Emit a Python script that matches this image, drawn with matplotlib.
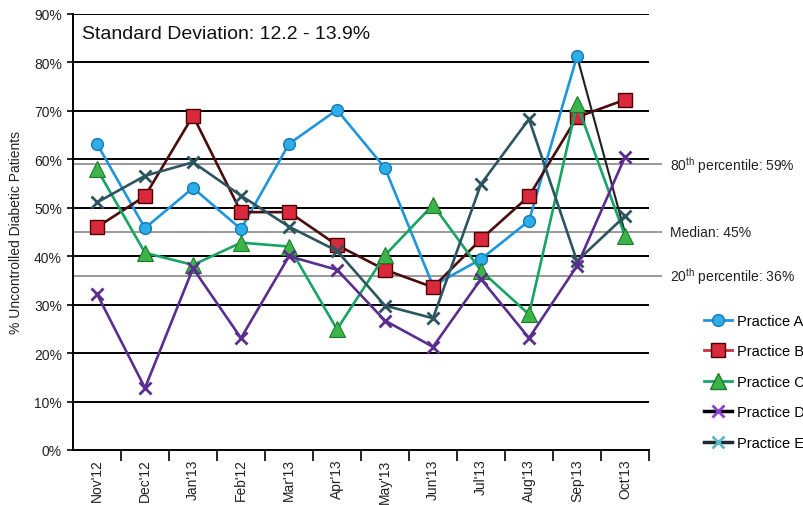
import matplotlib
matplotlib.use("Agg")
import matplotlib.pyplot as plt
from matplotlib.lines import Line2D

plt.rcParams['font.family'] = ['Liberation Sans', 'DejaVu Sans']
plt.rcParams['mathtext.fontset'] = 'custom'
plt.rcParams['mathtext.rm'] = 'Liberation Sans'

months = ["Nov'12", "Dec'12", "Jan'13", "Feb'12", "Mar'13", "Apr'13",
          "May'13", "Jun'13", "Jul'13", "Aug'13", "Sep'13", "Oct'13"]

practice_a = [63.2, 45.8, 54.1, 45.6, 63.2, 70.2, 58.2, 33.9, 39.4, 47.3, 81.3, 44.8]
practice_b = [46.0, 52.4, 69.0, 49.1, 49.1, 42.3, 37.2, 33.6, 43.5, 52.4, 68.7, 72.3]
practice_c = [58.0, 40.7, 38.2, 42.8, 42.0, 24.9, 40.2, 50.6, 37.0, 28.0, 71.4, 44.2]
practice_d = [32.2, 12.8, 37.5, 23.1, 40.0, 37.2, 26.7, 21.3, 35.3, 23.1, 38.0, 60.5]
practice_e = [51.1, 56.6, 59.4, 52.5, 46.1, 41.1, 29.8, 27.2, 54.9, 68.3, 39.0, 48.3]

percentile_values = [59, 45, 36]
percentile_labels = ["80$^{\\rm th}$ percentile: 59%", "Median: 45%",
                     "20$^{\\rm th}$ percentile: 36%"]

y_ticks = [0, 10, 20, 30, 40, 50, 60, 70, 80, 90]
title_text = "Standard Deviation: 12.2 - 13.9%"

fig = plt.figure(figsize=(8.04, 5.06), dpi=100)
ax = fig.add_axes([73 / 804, 1 - 451 / 506, 576 / 804, 436 / 506])

x = list(range(len(months)))

# horizontal grid
for v in y_ticks[1:]:
    ax.axhline(v, color='black', lw=1.4, zorder=1)

# percentile reference lines, extending slightly past the plot
for v, lab in zip(percentile_values, percentile_labels):
    ax.plot([0, 1.02], [v, v], transform=ax.get_yaxis_transform(),
            color='#9a9a9a', lw=1.4, clip_on=False, zorder=1.5)
    ax.text(1.037, v, lab, transform=ax.get_yaxis_transform(),
            va='center', ha='left', fontsize=10, color='#222222')

blue_line, blue_face, blue_edge = '#1f95dc', '#2eaee8', '#1577b5'
red_line, red_face, red_edge = '#4a0c0c', '#d82a3c', '#4a0000'
green_line, green_face, green_edge = '#17a564', '#3cb44a', '#1d7a2a'
purple = '#5b2d8e'
teal = '#2d5560'

lw = 1.9
# Practice A: last segment drawn dark, its final marker sits under Practice C
ax.plot(x[:-1], practice_a[:-1], color=blue_line, lw=lw, zorder=3)
ax.plot(x[-2:], practice_a[-2:], color='#222222', lw=lw * 0.8, zorder=2.9)
ax.plot(x, practice_a, ls='none', marker='o', ms=8.5, mfc=blue_face,
        mec=blue_edge, mew=1.0, markevery=list(range(len(x) - 1)), zorder=3.1)

ax.plot(x, practice_b, color=red_line, lw=lw, marker='s', ms=10,
        mfc=red_face, mec=red_edge, mew=1.0, zorder=4)

ax.plot(x, practice_c, color=green_line, lw=lw, marker='^', ms=11,
        mfc=green_face, mec=green_edge, mew=0.8, zorder=5)

ax.plot(x, practice_d, color=purple, lw=lw, marker='x', ms=9,
        mec=purple, mew=2.0, zorder=6)

ax.plot(x, practice_e, color=teal, lw=lw, marker='x', ms=9,
        mec=teal, mew=2.0, zorder=5.5)

ax.set_xlim(-0.5, len(months) - 0.5)
ax.set_ylim(0, 90)

ax.set_yticks(y_ticks)
ax.set_yticklabels([f"{v}%" for v in y_ticks], fontsize=10, color='#222222')
ax.tick_params(axis='y', length=4, width=1.2, pad=4)

ax.set_xticks(x)
ax.set_xticklabels(months, rotation=90, fontsize=10, color='#222222')
ax.set_xticks([i + 0.5 for i in x], minor=True)
ax.tick_params(axis='x', which='major', length=0, pad=6)
ax.tick_params(axis='x', which='minor', length=8, width=1.2, direction='out')

for s in ['top', 'right']:
    ax.spines[s].set_visible(False)
ax.spines['left'].set_linewidth(1.4)
ax.spines['bottom'].set_linewidth(1.4)

ax.set_ylabel("% Uncontrolled Diabetic Patients", fontsize=10, color='#222222',
              labelpad=8)

ax.text(0.015, 0.955, title_text, transform=ax.transAxes, fontsize=14,
        va='center', ha='left', color='#111111')

handles = [
    Line2D([], [], color=blue_line, lw=2, marker='o', ms=8.5, mfc=blue_face, mec=blue_edge),
    Line2D([], [], color='#d03040', lw=2, marker='s', ms=10, mfc=red_face, mec=red_edge),
    Line2D([], [], color=green_line, lw=2, marker='^', ms=11, mfc=green_face, mec=green_edge),
    Line2D([], [], color='black', lw=2.5, marker='x', ms=9, mec='#8a3fd0', mew=2),
    Line2D([], [], color='#1c2a30', lw=2.5, marker='x', ms=9, mec='#5fb8c8', mew=2),
]
labels = ["Practice A", "Practice B", "Practice C", "Practice D", "Practice E"]
fig.legend(handles, labels, loc='upper left', bbox_to_anchor=(698 / 804, 1 - 309 / 506),
           frameon=False, fontsize=10.5, handlelength=1.9, handletextpad=0.4,
           labelspacing=1.13, borderaxespad=0)

fig.savefig("out.png", dpi=100)
